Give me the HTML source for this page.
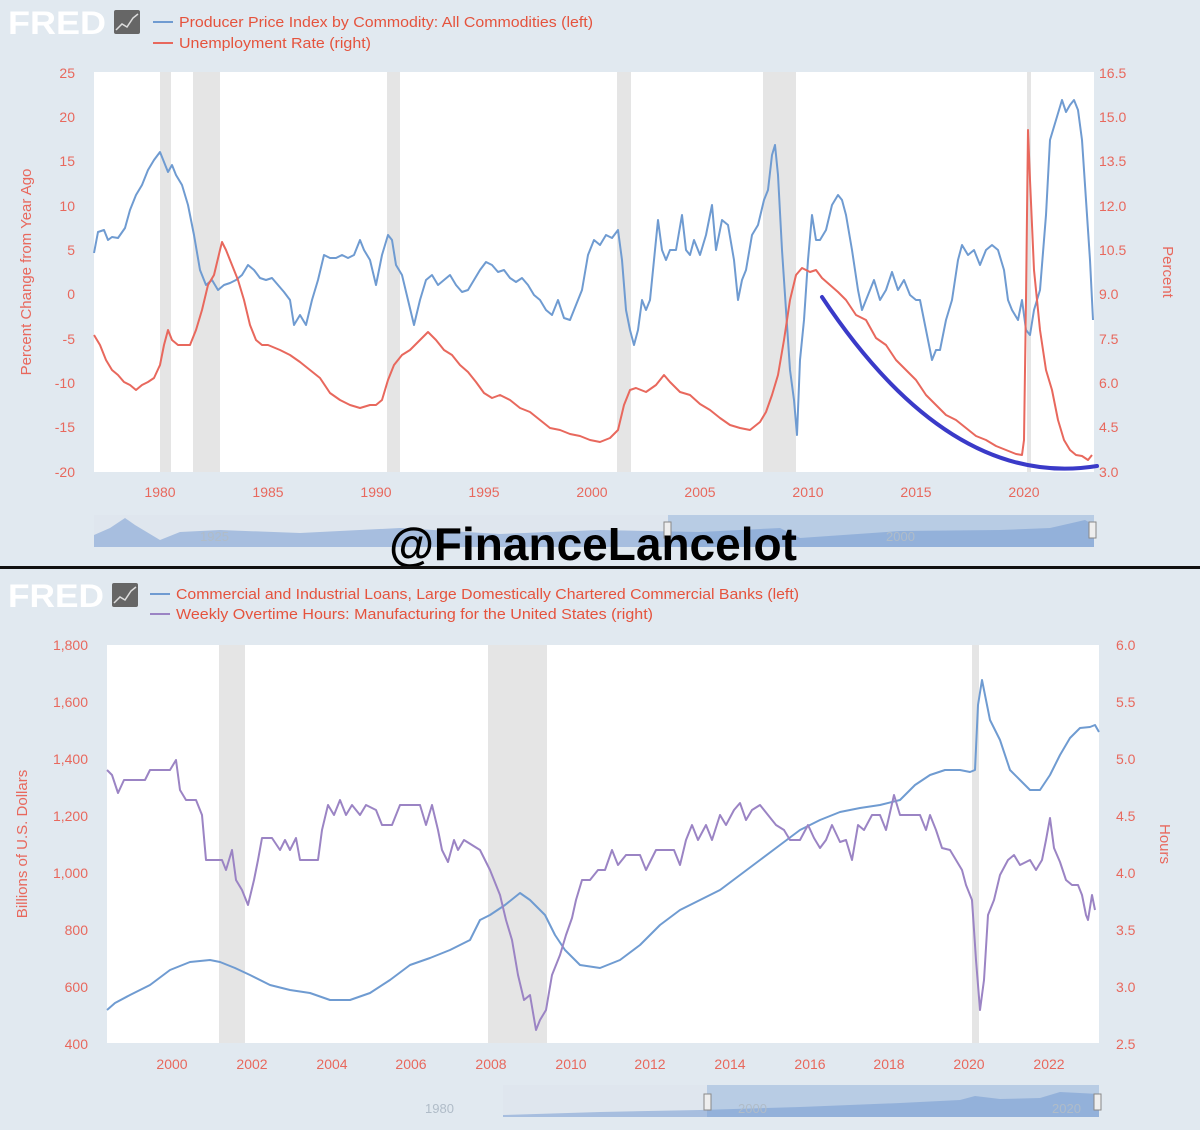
<!DOCTYPE html>
<html><head><meta charset="utf-8"><style>
html,body{margin:0;padding:0;width:1200px;height:1130px;overflow:hidden;background:#e1e9f0;font-family:"Liberation Sans",sans-serif}
</style></head><body>
<svg width="1200" height="1130" xmlns="http://www.w3.org/2000/svg" font-family="Liberation Sans, sans-serif">
<rect width="1200" height="1130" fill="#e1e9f0"/>
<!-- TOP -->
<text x="8" y="34" font-size="32" font-weight="bold" fill="#ffffff" textLength="98" lengthAdjust="spacingAndGlyphs">FRED</text>
<rect x="114" y="10" width="26" height="24" rx="2" fill="#666"/>
<polyline points="116,30 122,24 127,27 133,18 138,14" fill="none" stroke="#ddd" stroke-width="1.5"/>
<line x1="153" y1="22" x2="173" y2="22" stroke="#6f9bd1" stroke-width="2"/>
<text x="179" y="27" font-size="15" fill="#e5533d" textLength="414" lengthAdjust="spacingAndGlyphs">Producer Price Index by Commodity: All Commodities (left)</text>
<line x1="153" y1="43" x2="173" y2="43" stroke="#e8685d" stroke-width="2"/>
<text x="179" y="48" font-size="15" fill="#e5533d" textLength="192" lengthAdjust="spacingAndGlyphs">Unemployment Rate (right)</text>
<rect x="94" y="72" width="1000" height="400" fill="#fff"/>
<g fill="#e5e5e5"><rect x="160" y="72" width="11" height="400"/><rect x="193" y="72" width="27" height="400"/><rect x="387" y="72" width="13" height="400"/><rect x="617" y="72" width="14" height="400"/><rect x="763" y="72" width="33" height="400"/><rect x="1027" y="72" width="4" height="400"/></g>
<g font-size="14" fill="#e8685d" text-anchor="end">
<text x="75" y="78">25</text><text x="75" y="122">20</text><text x="75" y="166">15</text><text x="75" y="211">10</text><text x="75" y="255">5</text><text x="75" y="299">0</text><text x="75" y="344">-5</text><text x="75" y="388">-10</text><text x="75" y="432">-15</text><text x="75" y="477">-20</text></g>
<g font-size="14" fill="#e8685d">
<text x="1099" y="78">16.5</text><text x="1099" y="122">15.0</text><text x="1099" y="166">13.5</text><text x="1099" y="211">12.0</text><text x="1099" y="255">10.5</text><text x="1099" y="299">9.0</text><text x="1099" y="344">7.5</text><text x="1099" y="388">6.0</text><text x="1099" y="432">4.5</text><text x="1099" y="477">3.0</text></g>
<g font-size="14" fill="#e8685d" text-anchor="middle">
<text x="160" y="497">1980</text><text x="268" y="497">1985</text><text x="376" y="497">1990</text><text x="484" y="497">1995</text><text x="592" y="497">2000</text><text x="700" y="497">2005</text><text x="808" y="497">2010</text><text x="916" y="497">2015</text><text x="1024" y="497">2020</text></g>
<text transform="translate(31,272) rotate(-90)" font-size="15" fill="#e8685d" text-anchor="middle">Percent Change from Year Ago</text>
<text transform="translate(1163,272) rotate(90)" font-size="15" fill="#e8685d" text-anchor="middle">Percent</text>
<polyline fill="none" stroke="#6f9bd1" stroke-width="2" stroke-linejoin="round" points="94,253 98,232 104,230 108,240 112,237 118,238 125,228 130,210 136,195 142,185 148,170 154,160 160,152 164,162 168,172 172,165 176,175 182,185 188,205 194,235 200,270 206,285 212,280 218,290 224,285 230,283 236,280 242,275 248,265 254,270 260,278 266,280 272,278 278,285 284,292 290,300 294,325 300,315 306,325 312,300 318,280 324,255 330,258 336,258 342,255 348,258 354,255 360,240 364,250 370,260 376,285 382,255 388,235 392,240 396,265 402,275 408,300 414,325 420,300 426,280 432,275 438,285 444,280 450,275 456,285 462,292 468,290 474,280 480,270 486,262 492,265 498,272 504,270 510,278 516,282 522,278 528,285 534,295 540,300 546,310 552,315 558,300 564,318 570,320 576,305 582,290 588,255 594,240 600,245 606,235 612,238 618,230 622,260 626,310 630,330 634,345 638,330 642,300 646,310 650,300 654,260 658,220 662,250 666,260 670,250 676,250 682,215 686,250 690,255 694,240 700,255 706,235 712,205 716,250 722,220 728,225 734,260 738,300 742,280 746,270 752,235 758,225 764,200 768,190 772,155 775,145 778,175 782,250 786,310 790,370 794,400 797,435 800,360 804,320 808,260 812,215 816,240 820,240 826,230 832,205 838,195 842,200 846,215 852,250 858,290 862,310 868,295 874,280 880,300 886,290 892,272 898,290 904,280 910,295 916,300 920,300 926,330 932,360 936,350 940,350 946,320 952,300 958,260 962,245 968,255 974,250 980,265 986,250 992,245 998,250 1004,270 1008,300 1012,310 1018,320 1022,300 1026,330 1030,335 1034,310 1040,290 1046,215 1050,140 1056,120 1062,100 1066,112 1070,105 1074,100 1078,110 1082,140 1086,200 1090,260 1093,320"/>
<polyline fill="none" stroke="#e8685d" stroke-width="2" stroke-linejoin="round" points="94,335 100,345 106,360 112,370 118,375 124,382 130,385 136,390 142,385 148,382 154,378 160,365 164,345 168,330 172,340 178,345 184,345 190,345 196,330 202,310 208,285 214,275 220,250 222,242 226,250 232,265 238,280 244,300 250,325 256,340 262,345 268,345 280,350 290,355 300,362 310,370 320,378 330,393 340,400 350,405 360,408 370,405 376,405 382,400 388,380 394,365 402,355 410,350 420,340 428,332 436,340 444,350 452,355 460,365 468,372 476,382 484,393 492,398 500,395 510,400 520,408 530,412 540,420 550,428 560,430 570,434 580,436 590,440 600,442 610,438 618,430 624,405 630,390 636,388 646,392 656,385 664,375 670,382 680,392 690,395 700,404 710,410 720,418 730,425 740,428 750,430 760,422 766,412 772,395 778,375 784,340 790,300 796,275 802,268 810,272 816,270 822,278 830,285 838,292 846,300 856,315 866,320 876,338 886,345 896,360 906,370 916,380 926,395 936,405 946,415 956,420 966,428 976,436 986,440 996,446 1006,450 1016,454 1022,455 1024,440 1026,300 1028,130 1030,180 1034,270 1040,330 1046,370 1052,390 1058,420 1064,440 1070,450 1076,455 1082,456 1088,460 1092,455"/>
<path d="M822,297 Q950,490 1097,466" fill="none" stroke="#3a3ac8" stroke-width="4" stroke-linecap="round"/>
<!-- top navigator -->
<rect x="94" y="515" width="1000" height="32" fill="#dfe6ee"/>
<path d="M94,535 L110,528 L125,518 L135,525 L160,540 L180,532 L220,530 L300,533 L400,528 L500,534 L600,530 L700,532 L780,528 L800,538 L900,531 L1000,530 L1050,528 L1085,520 L1094,525 L1094,547 L94,547Z" fill="#a7bedf"/>
<rect x="668" y="515" width="426" height="32" fill="#6f9bd1" opacity="0.35"/>
<text x="200" y="541" font-size="13" fill="#b0bcc8">1925</text><text x="886" y="541" font-size="13" fill="#b0bcc8">2000</text>
<rect x="664" y="522" width="7" height="16" fill="#eee" stroke="#888"/><rect x="1089" y="522" width="7" height="16" fill="#eee" stroke="#888"/>
<text x="593" y="560" font-size="46" font-weight="bold" fill="#000" text-anchor="middle">@FinanceLancelot</text>
<rect x="0" y="566" width="1200" height="3" fill="#111"/>
<!-- BOTTOM -->
<text x="8" y="607" font-size="32" font-weight="bold" fill="#ffffff" textLength="96" lengthAdjust="spacingAndGlyphs">FRED</text>
<rect x="112" y="583" width="26" height="24" rx="2" fill="#666"/>
<polyline points="114,603 120,597 125,600 131,591 136,587" fill="none" stroke="#ddd" stroke-width="1.5"/>
<line x1="150" y1="594" x2="170" y2="594" stroke="#6f9bd1" stroke-width="2"/>
<text x="176" y="599" font-size="15" fill="#e5533d" textLength="623" lengthAdjust="spacingAndGlyphs">Commercial and Industrial Loans, Large Domestically Chartered Commercial Banks (left)</text>
<line x1="150" y1="614" x2="170" y2="614" stroke="#9b84c4" stroke-width="2"/>
<text x="176" y="619" font-size="15" fill="#e5533d" textLength="477" lengthAdjust="spacingAndGlyphs">Weekly Overtime Hours: Manufacturing for the United States (right)</text>
<rect x="107" y="645" width="992" height="398" fill="#fff"/>
<g fill="#e5e5e5"><rect x="219" y="645" width="26" height="398"/><rect x="488" y="645" width="59" height="398"/><rect x="972" y="645" width="7" height="398"/></g>
<g font-size="14" fill="#e8685d" text-anchor="end">
<text x="88" y="650">1,800</text><text x="88" y="707">1,600</text><text x="88" y="764">1,400</text><text x="88" y="821">1,200</text><text x="88" y="878">1,000</text><text x="88" y="935">800</text><text x="88" y="992">600</text><text x="88" y="1049">400</text></g>
<g font-size="14" fill="#e8685d">
<text x="1116" y="650">6.0</text><text x="1116" y="707">5.5</text><text x="1116" y="764">5.0</text><text x="1116" y="821">4.5</text><text x="1116" y="878">4.0</text><text x="1116" y="935">3.5</text><text x="1116" y="992">3.0</text><text x="1116" y="1049">2.5</text></g>
<g font-size="14" fill="#e8685d" text-anchor="middle">
<text x="172" y="1069">2000</text><text x="252" y="1069">2002</text><text x="332" y="1069">2004</text><text x="411" y="1069">2006</text><text x="491" y="1069">2008</text><text x="571" y="1069">2010</text><text x="650" y="1069">2012</text><text x="730" y="1069">2014</text><text x="810" y="1069">2016</text><text x="889" y="1069">2018</text><text x="969" y="1069">2020</text><text x="1049" y="1069">2022</text></g>
<text transform="translate(27,844) rotate(-90)" font-size="15" fill="#e8685d" text-anchor="middle">Billions of U.S. Dollars</text>
<text transform="translate(1160,844) rotate(90)" font-size="15" fill="#e8685d" text-anchor="middle">Hours</text>
<polyline fill="none" stroke="#6f9bd1" stroke-width="2" stroke-linejoin="round" points="107,1010 115,1003 130,995 150,985 170,970 190,962 210,960 220,962 235,968 250,975 270,985 290,990 310,993 330,1000 350,1000 370,993 390,980 410,965 430,958 450,950 470,940 480,920 490,915 505,905 520,893 530,900 545,915 555,935 565,950 580,965 600,968 620,960 640,945 660,925 680,910 700,900 720,890 740,875 760,860 780,845 800,830 820,820 840,812 860,808 880,805 900,800 915,785 930,775 945,770 960,770 970,772 975,770 978,705 982,680 986,700 990,720 1000,740 1010,770 1020,780 1030,790 1040,790 1050,775 1060,755 1070,738 1080,728 1090,727 1095,725 1099,732"/>
<polyline fill="none" stroke="#9b84c4" stroke-width="2" stroke-linejoin="round" points="107,770 112,775 118,793 124,780 130,780 145,780 150,770 170,770 176,760 180,790 186,800 196,800 202,815 206,860 212,860 222,860 226,870 232,850 236,880 242,890 248,905 254,880 258,860 262,838 272,838 280,850 285,840 290,850 296,838 300,860 318,860 322,830 328,805 334,815 340,800 346,815 352,805 360,815 366,805 376,810 382,825 392,825 400,805 420,805 426,825 432,805 438,830 442,850 448,862 454,840 458,850 464,840 480,850 486,862 490,870 494,880 500,895 506,920 512,940 518,975 524,1000 530,995 536,1030 540,1020 546,1010 552,975 560,955 566,935 572,918 576,900 582,880 590,880 594,875 598,870 605,870 612,850 618,865 626,855 640,855 646,870 656,850 674,850 680,865 686,840 692,825 698,840 706,825 712,840 720,815 726,825 734,810 740,803 746,820 752,810 760,805 768,815 776,825 784,830 790,840 800,840 808,825 814,838 820,848 826,840 832,825 840,842 846,840 852,860 858,825 864,830 872,815 880,815 886,830 894,795 900,815 906,815 920,815 926,830 930,815 936,830 942,848 950,850 956,860 962,870 966,885 972,900 976,960 980,1010 984,980 988,915 994,900 1000,875 1008,860 1014,855 1020,865 1030,860 1036,870 1042,860 1046,840 1050,818 1054,848 1060,862 1066,880 1072,885 1078,885 1082,895 1086,915 1088,920 1092,895 1095,910"/>
<!-- bottom navigator -->
<rect x="503" y="1085" width="596" height="32" fill="#dfe6ee"/>
<path d="M503,1115 L600,1112 L700,1110 L800,1107 L900,1103 L960,1100 L975,1096 L1000,1099 L1040,1098 L1060,1092 L1099,1094 L1099,1117 L503,1117Z" fill="#a7bedf"/>
<rect x="707" y="1085" width="392" height="32" fill="#6f9bd1" opacity="0.35"/>
<text x="425" y="1113" font-size="13" fill="#b0bcc8">1980</text><text x="738" y="1113" font-size="13" fill="#b0bcc8">2000</text><text x="1052" y="1113" font-size="13" fill="#b0bcc8">2020</text>
<rect x="704" y="1094" width="7" height="16" fill="#eee" stroke="#888"/><rect x="1094" y="1094" width="7" height="16" fill="#eee" stroke="#888"/>
</svg>
</body></html>
